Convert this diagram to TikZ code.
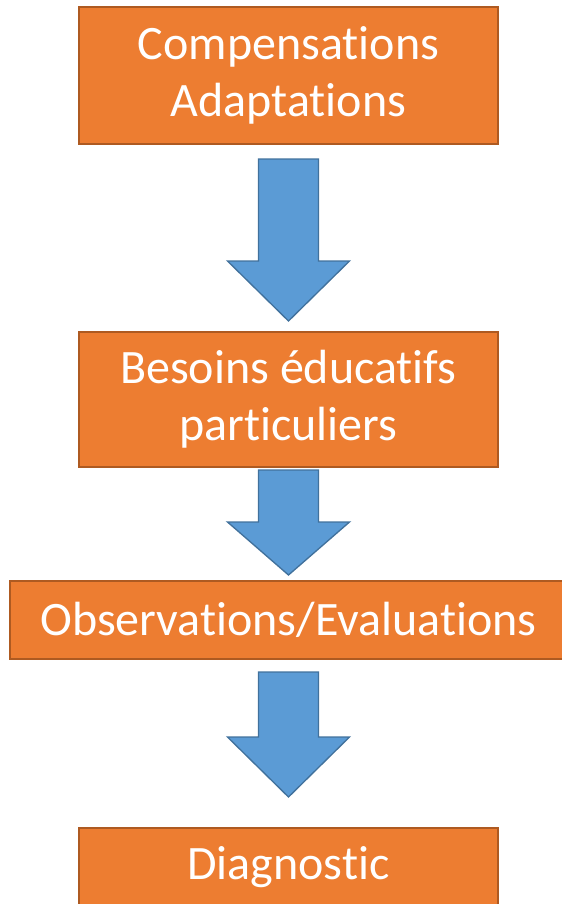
\documentclass[tikz,border=0pt]{standalone}
\usepackage{fontspec}
\setmainfont{Carlito}[Ligatures=NoCommon]
\usetikzlibrary{positioning}

\definecolor{boxorange}{HTML}{ED7D31}
\definecolor{boxorangedark}{HTML}{AE5A21}
\definecolor{arrowblue}{HTML}{5B9BD5}
\definecolor{arrowbluedark}{HTML}{41719C}

\begin{document}
\begin{tikzpicture}[
  x=0.75pt, y=-0.75pt,
  every node/.style={align=center},
  % Boxes (steps) - flat orange fill, white text
  stepbox/.style={rectangle, draw=boxorangedark, fill=boxorange, line width=1.6pt, inner sep=0pt, text=white, font=\fontsize{36}{43}\selectfont},
  % Block arrows between the steps
  blockarrow/.style={draw=arrowbluedark, fill=arrowblue, line width=1pt, line join=miter}
]
\useasboundingbox (0,0) rectangle (561,904);

% === NODES (Steps) ===

% Compensations / Adaptations
\node[stepbox, minimum width=419*0.75pt, minimum height=137*0.75pt] (comp) at (288.5, 75.5) {Compensations\\Adaptations};

% Besoins educatifs particuliers
\node[stepbox, minimum width=419*0.75pt, minimum height=135*0.75pt] (besoins) at (288.5, 399.5) {Besoins éducatifs\\particuliers};

% Observations / Evaluations
\node[stepbox, minimum width=557*0.75pt, minimum height=78*0.75pt] (obs) at (288.5, 620) {Observations/Evaluations};

% Diagnostic
\node[stepbox, minimum width=419*0.75pt, minimum height=78*0.75pt] (diag) at (288.5, 867) {Diagnostic};

% === ARROWS (top / shoulder / tip) ===
\foreach \top/\sh/\tip in {159/261/321, 470/522/575, 672/737/797}
  \draw[blockarrow] (258.5,\top) -- (318.5,\top) -- (318.5,\sh) -- (349.5,\sh)
    -- (288.5,\tip) -- (227.5,\sh) -- (258.5,\sh) -- cycle;

\end{tikzpicture}
\end{document}
